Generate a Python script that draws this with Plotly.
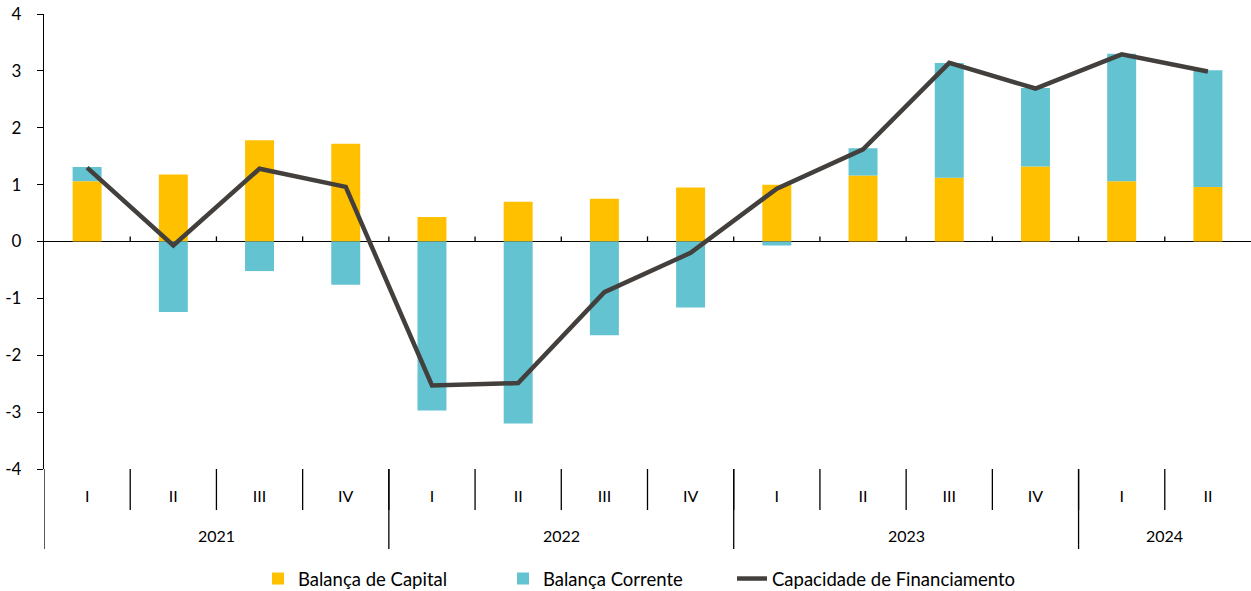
import plotly.graph_objects as go

quarters = ["I", "II", "III", "IV", "I", "II", "III", "IV", "I", "II", "III", "IV", "I", "II"]
years = ["2021"] * 4 + ["2022"] * 4 + ["2023"] * 4 + ["2024"] * 2
balanca_capital = [1.06, 1.18, 1.78, 1.72, 0.43, 0.70, 0.75, 0.95, 1.00, 1.16, 1.12, 1.32, 1.06, 0.96]
balanca_corrente = [0.25, -1.24, -0.52, -0.76, -2.97, -3.20, -1.65, -1.16, -0.07, 0.48, 2.02, 1.38, 2.24, 2.05]
capacidade_financiamento = [1.30, -0.07, 1.28, 0.96, -2.53, -2.49, -0.89, -0.20, 0.93, 1.62, 3.14, 2.69, 3.29, 2.99]
y_tickvals = [-4, -3, -2, -1, 0, 1, 2, 3, 4]
y_ticktext = ["-4", "-3", "-2", "-1", "0", "1", "2", "3", "4"]

FONT = "Lato"
W, H = 1251, 591
ML, MR, MT, MB = 44, 0, 14, 122
plot_h = H - MT - MB

idx = list(range(len(quarters)))

fig = go.Figure()
fig.add_trace(go.Bar(x=idx, y=balanca_capital, name="Balança de Capital", legend="legend",
                     marker=dict(color="#FFC000", line=dict(width=0))))
fig.add_trace(go.Bar(x=idx, y=balanca_corrente, name="Balança Corrente", legend="legend2",
                     marker=dict(color="#63C3D1", line=dict(width=0))))
fig.add_trace(go.Scatter(x=idx, y=capacidade_financiamento, name="Capacidade de Financiamento",
                         legend="legend3", mode="lines", line=dict(color="#433F3C", width=4.5)))

def px_to_paper(py):
    return (H - MB - py) / plot_h

shapes = []
for k in range(len(quarters) - 1):
    b = k + 0.5
    shapes.append(dict(type="line", xref="x", yref="y", x0=b, x1=b, y0=0, y1=0.09,
                       line=dict(color="black", width=1.3)))
    shapes.append(dict(type="line", xref="x", yref="paper", x0=b, x1=b,
                       y0=0, y1=px_to_paper(510), line=dict(color="black", width=1.3)))
year_bounds = [-0.5] + [k + 0.5 for k in range(len(years) - 1) if years[k] != years[k + 1]]
for b in year_bounds:
    shapes.append(dict(type="line", xref="x", yref="paper", x0=b, x1=b,
                       y0=0, y1=px_to_paper(549), line=dict(color="black", width=1.3)))

annotations = []
seen = []
for y in years:
    if y not in seen:
        seen.append(y)
for y in seen:
    pos = [i for i, v in enumerate(years) if v == y]
    annotations.append(dict(x=sum(pos) / len(pos), xref="x", y=px_to_paper(535), yref="paper",
                            text=y, showarrow=False, font=dict(family=FONT, size=16, color="black"),
                            yanchor="middle"))

def legend_at(left_px):
    return dict(orientation="h", x=left_px / W, xanchor="left", xref="container",
                y=px_to_paper(579), yanchor="middle",
                font=dict(family=FONT, size=18.5, color="black"), bgcolor="rgba(0,0,0,0)")

fig.update_layout(
    width=W, height=H,
    margin=dict(l=ML, r=MR, t=MT, b=MB, autoexpand=False),
    paper_bgcolor="white", plot_bgcolor="white",
    barmode="relative", bargap=0.664,
    font=dict(family=FONT, size=16, color="black"),
    shapes=shapes, annotations=annotations,
    showlegend=True,
    legend=legend_at(258), legend2=legend_at(503), legend3=legend_at(732),
    xaxis=dict(range=[-0.5, len(quarters) - 0.5], tickvals=idx, ticktext=quarters,
               ticks="", showline=False, showgrid=False, zeroline=False,
               ticklabelstandoff=16, tickfont=dict(family=FONT, size=16, color="black")),
    yaxis=dict(range=[-4, 4], tickvals=y_tickvals, ticktext=y_ticktext,
               showline=True, linecolor="black", linewidth=1.3,
               ticks="outside", ticklen=6, tickcolor="black", tickwidth=1.3,
               ticklabelstandoff=12,
               showgrid=False, zeroline=True, zerolinecolor="black", zerolinewidth=1.3,
               tickfont=dict(family=FONT, size=17, color="black")),
)

fig.write_html("out.html", config={"displayModeBar": False},
               post_script="document.body.style.margin='0';document.body.style.padding='0';")
